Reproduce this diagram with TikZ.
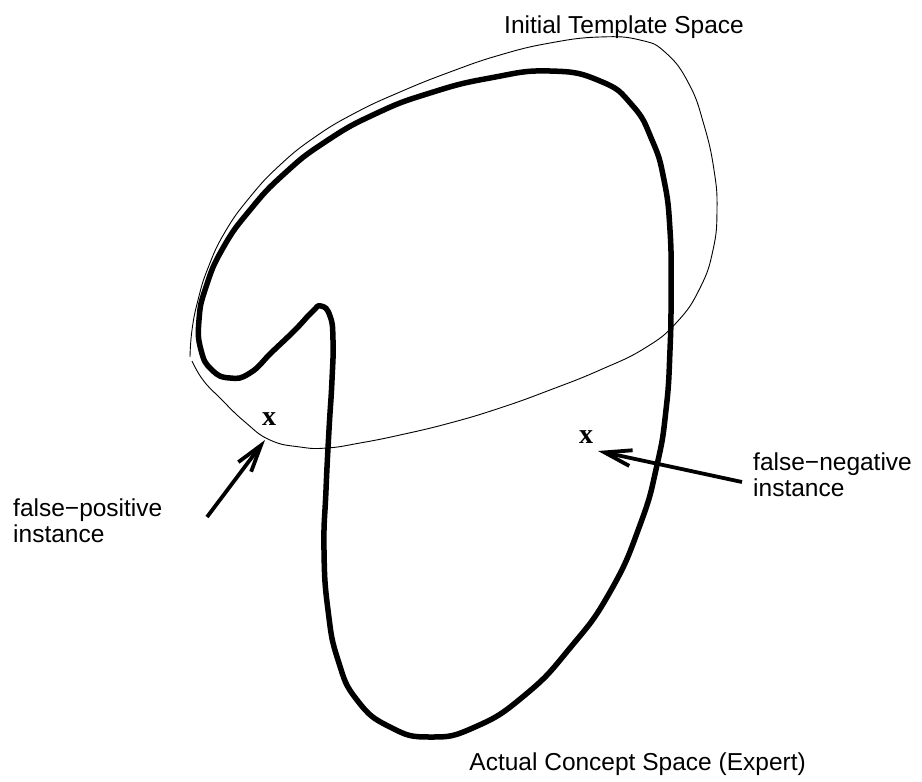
\documentclass[tikz,border=0pt]{standalone}
\usepackage{fontspec}
\setmainfont{Liberation Sans}
\newfontfamily\markfont{Liberation Serif}
\usetikzlibrary{arrows.meta}
\tikzset{
  concept/.style={line width=5.5pt, line join=round, black},
  template/.style={line width=0.9pt, black},
  pointer/.style={line width=3.8pt, -{Straight Barb[length=27pt,width=16pt]}},
  label/.style={font=\fontsize{24.5}{26}\selectfont, inner sep=0pt, align=left},
  xmark/.style={font=\markfont\bfseries\fontsize{28}{28}\selectfont, inner sep=0pt}
}
\begin{document}
\begin{tikzpicture}[x=1pt,y=-1pt]
\useasboundingbox[fill=white] (0,0) rectangle (922,782);
% Initial template space (thin)
\draw[template] plot[smooth, tension=0.8] coordinates {
 (190,357) (192,330) (198,300) (208,268) (225,232) (250,197) (280,165)
 (315,137) (355,113) (400,92) (450,72) (500,55) (550,43) (600,37)
 (640,40) (666,53) (689,84) (704,125) (714,170) (717,210) (713,250)
 (700,288) (677,322) (645,348) (600,370) (550,390) (500,408) (450,423)
 (400,435) (360,443) (327,448) (300,447) (270,440) (245,422) (220,398)
 (203,380) (192,361)};
% Actual concept space (thick)
\draw[concept] plot[smooth cycle, tension=0.85] coordinates {
 (321,306) (330,316) (333,340) (332,380) (329,430) (326,490) (324,550)
 (328,610) (338,660) (357,700) (390,727) (430,737) (475,727) (525,695)
 (570,648) (610,592) (640,525) (657,465) (666,410) (670,350) (671,290)
 (670,230) (664,180) (652,140) (632,105) (600,81) (550,71) (490,78)
 (430,93) (375,114) (325,142) (284,174) (250,210) (223,248) (206,287)
 (199,320) (201,350) (212,370) (230,378) (250,373) (272,352) (295,330)
 (312,312)};
% labels
\node[label, anchor=base west] (tmpl) at (504,33) {Initial Template Space};
\node[label, anchor=base east] (actual) at (806,770) {Actual Concept Space (Expert)};
\node[label, anchor=base west] (fp) at (13,542) {false−positive\\instance};
\node[label, anchor=base west] (fn) at (753,496) {false−negative\\instance};
% instances
\node[xmark] (x1) at (269,419) {x};
\node[xmark] (x2) at (586,437) {x};
% arrows
\coordinate (fpTail) at (207,517);
\coordinate (fpTip) at (265,440);
\coordinate (fnTail) at (742,482);
\coordinate (fnTip) at (598,451);
\draw[pointer] (fpTail) -- (fpTip);
\draw[pointer] (fnTail) -- (fnTip);
\end{tikzpicture}
\end{document}
